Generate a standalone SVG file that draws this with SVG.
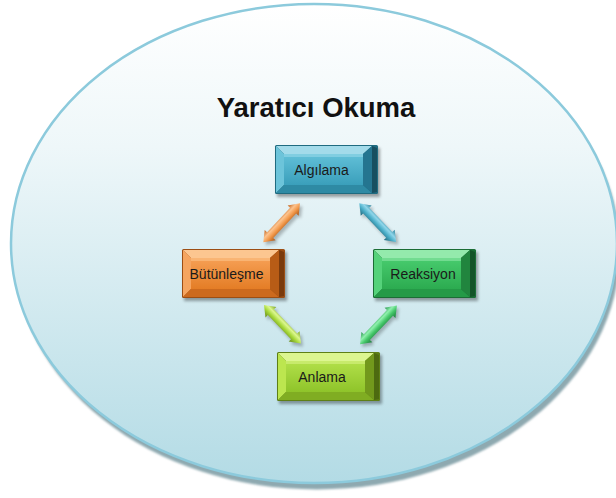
<svg xmlns="http://www.w3.org/2000/svg" xmlns:xlink="http://www.w3.org/1999/xlink" width="616" height="498" viewBox="0 0 616 498">
<style>
  .title { font-family: "Liberation Sans", Arial, sans-serif; font-weight: bold; font-size: 27.5px; fill: #111; }
  .lbl { font-family: "Liberation Sans", Arial, sans-serif; font-size: 14px; fill: #1a1a1a; text-anchor: middle; }
  .bshadow { fill: #000; opacity: 0.35; filter: url(#blur2); }
  .ashadow { fill: #000; opacity: 0.25; filter: url(#blur2); }
</style>
<defs>
  <linearGradient id="bg" x1="0" y1="0" x2="0" y2="1">
    <stop offset="0" stop-color="#ffffff"/>
    <stop offset="0.3" stop-color="#eef7f9"/>
    <stop offset="1" stop-color="#b3dbe5"/>
  </linearGradient>
  <filter id="blur2" x="-20%" y="-20%" width="140%" height="140%"><feGaussianBlur stdDeviation="1.5"/></filter>
  <filter id="blur1" x="-5%" y="-5%" width="110%" height="110%"><feGaussianBlur stdDeviation="1"/></filter>
  <linearGradient id="fB" x1="0" y1="0" x2="0" y2="1"><stop offset="0" stop-color="#62c0d8"/><stop offset="1" stop-color="#3a9fbb"/></linearGradient>
  <linearGradient id="fO" x1="0" y1="0" x2="0" y2="1"><stop offset="0" stop-color="#f6a055"/><stop offset="1" stop-color="#e47d26"/></linearGradient>
  <linearGradient id="fG" x1="0" y1="0" x2="0" y2="1"><stop offset="0" stop-color="#48cc6e"/><stop offset="1" stop-color="#2cab50"/></linearGradient>
  <linearGradient id="fY" x1="0" y1="0" x2="0" y2="1"><stop offset="0" stop-color="#b2e04a"/><stop offset="1" stop-color="#8fc42a"/></linearGradient>
  <linearGradient id="aB" x1="0" y1="0" x2="0" y2="1"><stop offset="0" stop-color="#2a7f98"/><stop offset="0.35" stop-color="#8fd6ea"/><stop offset="0.6" stop-color="#4bafc9"/><stop offset="1" stop-color="#1f6478"/></linearGradient>
  <linearGradient id="aO" x1="0" y1="0" x2="0" y2="1"><stop offset="0" stop-color="#c2611a"/><stop offset="0.35" stop-color="#fcc38e"/><stop offset="0.6" stop-color="#f39a4c"/><stop offset="1" stop-color="#a9520f"/></linearGradient>
  <linearGradient id="aG" x1="0" y1="0" x2="0" y2="1"><stop offset="0" stop-color="#23934a"/><stop offset="0.35" stop-color="#8ff0ad"/><stop offset="0.6" stop-color="#45c86a"/><stop offset="1" stop-color="#1c7a3a"/></linearGradient>
  <linearGradient id="aY" x1="0" y1="0" x2="0" y2="1"><stop offset="0" stop-color="#77a21d"/><stop offset="0.35" stop-color="#dcf78f"/><stop offset="0.6" stop-color="#a8da3c"/><stop offset="1" stop-color="#628714"/></linearGradient>
  <path id="arr" d="M0,0 L10,-7.5 L10,-4.2 L43.5,-4.2 L43.5,-7.5 L53.5,0 L43.5,7.5 L43.5,4.2 L10,4.2 L10,7.5 Z"/>
</defs>

<g id="background">
  <ellipse cx="317" cy="250" rx="303" ry="239.5" fill="#8ea9b0" filter="url(#blur1)"/>
  <ellipse cx="314" cy="243.5" rx="303" ry="239.5" fill="url(#bg)" stroke="#8ccadc" stroke-width="2.5"/>
</g>

<g id="title">
  <text class="title" x="316" y="117" text-anchor="middle">Yaratıcı Okuma</text>
</g>

<g id="connectors">
  <use href="#arr" class="ashadow" transform="translate(265.5,245) rotate(-46.7)"/>
  <use href="#arr" fill="url(#aO)" transform="translate(263.3,242.3) rotate(-46.7)"/>
  <use href="#arr" class="ashadow" transform="translate(361.5,206) rotate(46.5)"/>
  <use href="#arr" fill="url(#aB)" transform="translate(359.3,203.3) rotate(46.5)"/>
  <use href="#arr" class="ashadow" transform="translate(266,308) rotate(46.2)"/>
  <use href="#arr" fill="url(#aY)" transform="translate(264,305) rotate(46.2)"/>
  <use href="#arr" class="ashadow" transform="translate(362,347) rotate(-46.4)"/>
  <use href="#arr" fill="url(#aG)" transform="translate(360,344.3) rotate(-46.4)"/>
</g>

<g id="node-algilama" transform="translate(275,145)">
  <rect class="bshadow" x="2" y="3" width="103" height="49"/>
  <rect x="0" y="0" width="103" height="49" rx="1.5" fill="#1f6b80"/>
  <polygon points="1,1 97,1 88,9 9,9" fill="#a3dbea"/>
  <polygon points="1,1 9,9 9,40 1,48" fill="#6cc4da"/>
  <polygon points="1,48 9,40 88,40 97,48" fill="#2e8aa4"/>
  <polygon points="97,1 88,9 88,40 97,48" fill="#247590"/>
  <polygon points="97,1 102,3 102,47 97,48" fill="#174f60"/>
  <rect x="9" y="9" width="79" height="31" fill="url(#fB)"/>
  <rect x="9" y="9" width="79" height="3" fill="#8fd4e6" opacity="0.7"/>
  <text class="lbl" x="46.5" y="30">Algılama</text>
</g>

<g id="node-butunlesme" transform="translate(182,249)">
  <rect class="bshadow" x="2" y="3" width="103" height="49"/>
  <rect x="0" y="0" width="103" height="49" rx="1.5" fill="#9c4e14"/>
  <polygon points="1,1 97,1 88,9 9,9" fill="#fcc690"/>
  <polygon points="1,1 9,9 9,40 1,48" fill="#f5a560"/>
  <polygon points="1,48 9,40 88,40 97,48" fill="#cc6a1e"/>
  <polygon points="97,1 88,9 88,40 97,48" fill="#b85c16"/>
  <polygon points="97,1 102,3 102,47 97,48" fill="#7a3a0c"/>
  <rect x="9" y="9" width="79" height="31" fill="url(#fO)"/>
  <rect x="9" y="9" width="79" height="3" fill="#fbbd82" opacity="0.7"/>
  <text class="lbl" x="44.5" y="29.5">Bütünleşme</text>
</g>

<g id="node-reaksiyon" transform="translate(373,249)">
  <rect class="bshadow" x="2" y="3" width="103" height="49"/>
  <rect x="0" y="0" width="103" height="49" rx="1.5" fill="#1b6d35"/>
  <polygon points="1,1 97,1 88,9 9,9" fill="#94eaac"/>
  <polygon points="1,1 9,9 9,40 1,48" fill="#55d27a"/>
  <polygon points="1,48 9,40 88,40 97,48" fill="#259a47"/>
  <polygon points="97,1 88,9 88,40 97,48" fill="#21853e"/>
  <polygon points="97,1 102,3 102,47 97,48" fill="#145428"/>
  <rect x="9" y="9" width="79" height="31" fill="url(#fG)"/>
  <rect x="9" y="9" width="79" height="3" fill="#85e39f" opacity="0.7"/>
  <text class="lbl" x="50" y="29.5">Reaksiyon</text>
</g>

<g id="node-anlama" transform="translate(277,352)">
  <rect class="bshadow" x="2" y="3" width="103" height="49"/>
  <rect x="0" y="0" width="103" height="49" rx="1.5" fill="#5e7f16"/>
  <polygon points="1,1 97,1 88,9 9,9" fill="#dcf690"/>
  <polygon points="1,1 9,9 9,40 1,48" fill="#bce64f"/>
  <polygon points="1,48 9,40 88,40 97,48" fill="#80ad22"/>
  <polygon points="97,1 88,9 88,40 97,48" fill="#72991c"/>
  <polygon points="97,1 102,3 102,47 97,48" fill="#4d6a10"/>
  <rect x="9" y="9" width="79" height="31" fill="url(#fY)"/>
  <rect x="9" y="9" width="79" height="3" fill="#d2f07c" opacity="0.7"/>
  <text class="lbl" x="45" y="30">Anlama</text>
</g>
</svg>
